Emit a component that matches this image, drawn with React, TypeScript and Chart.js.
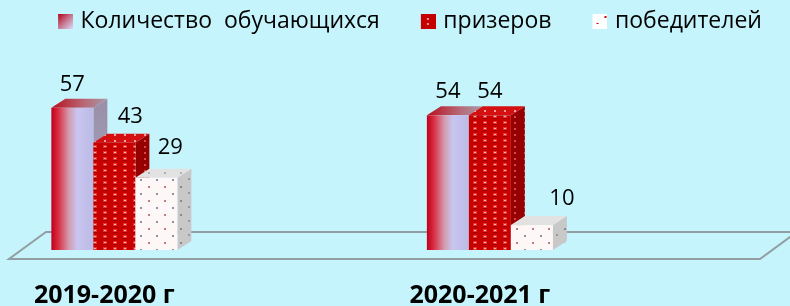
import React, { useEffect, useRef } from 'react';
import { Chart, registerables } from 'chart.js';

Chart.register(...registerables);

// ---- data ----
const categories = ['2019-2020 г', '2020-2021 г'];
const seriesNames = ['Количество  обучающихся', 'призеров', 'победителей'];
const participants = [57, 54];
const prizeWinners = [43, 54];
const winners = [29, 10];

// ---- styles ----
const BG = 'rgb(197,244,252)';
const DEPTH_X = 14;
const DEPTH_Y = -9;
// label nudges [dx, dy] per dataset, per category (style only)
const LABEL_NUDGE = [
  [[0, -17], [0, -17]],
  [[16, -20], [0, -17]],
  [[14, -24], [30, -20]],
];

function tile(w: number, h: number, base: string, dots: Array<[number, number, number, number, string]>) {
  const c = document.createElement('canvas');
  c.width = w;
  c.height = h;
  const g = c.getContext('2d')!;
  g.fillStyle = base;
  g.fillRect(0, 0, w, h);
  dots.forEach(([x, y, dw, dh, col]) => {
    g.fillStyle = col;
    g.fillRect(x, y, dw, dh);
  });
  return c;
}

// legend icon: 50x15 canvas, visible 15x15 square at its right end
function legendIcon(kind: number) {
  const c = document.createElement('canvas');
  c.width = 50;
  c.height = 15;
  const g = c.getContext('2d')!;
  g.translate(35, 0);
  if (kind === 0) {
    const gr = g.createLinearGradient(0, 0, 15, 15);
    gr.addColorStop(0, '#b0001a');
    gr.addColorStop(0.5, '#c87890');
    gr.addColorStop(1, '#dcdcfa');
    g.fillStyle = gr;
    g.fillRect(0, 0, 15, 15);
  } else if (kind === 1) {
    g.fillStyle = '#c40000';
    g.fillRect(0, 0, 15, 15);
    g.fillStyle = '#ff9a9a';
    g.fillRect(6, 4, 2, 2);
    g.fillRect(6, 9, 2, 2);
  } else {
    g.fillStyle = '#ffffff';
    g.fillRect(0, 0, 15, 15);
    g.fillStyle = '#d00000';
    g.fillRect(4, 9, 2, 1);
    g.fillRect(12, 2, 2, 2);
  }
  return c;
}

export default function App() {
  const ref = useRef<HTMLCanvasElement | null>(null);

  useEffect(() => {
    const canvas = ref.current!;
    const ctx0 = canvas.getContext('2d')!;
    Chart.defaults.font.family = "'Open Sans', sans-serif";
    Chart.defaults.color = '#000';

    const redTile = tile(10, 6, '#c80000', [[3, 1, 4, 3, '#e83030'], [4, 2, 2, 1, '#ffb4b4'], [3, 4, 4, 1, '#a00000']]);
    const redTopTile = tile(10, 6, '#d41010', [[4, 2, 2, 2, '#ff9c9c']]);
    const redSideTile = tile(10, 6, '#960000', [[4, 2, 2, 2, '#d84848']]);
    const whiteTile = tile(16, 14, '#fdf7f7', [[4, 4, 2, 2, '#c07a7a'], [12, 11, 2, 2, '#8e94a8']]);
    const whiteTopTile = tile(16, 14, '#e2e2e2', [[4, 4, 2, 2, '#b0b0b0']]);
    const whiteSideTile = tile(16, 14, '#c8c8c8', [[4, 4, 2, 2, '#8a8a8a'], [12, 10, 2, 2, '#9a9a9a']]);
    const pat = (c: HTMLCanvasElement) => ctx0.createPattern(c, 'repeat')!;
    const P = {
      red: pat(redTile), redTop: pat(redTopTile), redSide: pat(redSideTile),
      white: pat(whiteTile), whiteTop: pat(whiteTopTile), whiteSide: pat(whiteSideTile),
    };
    const icons = [legendIcon(0), legendIcon(1), legendIcon(2)];

    const bars3d = {
      id: 'bars3d',
      beforeDatasetsDraw(chart: any) {
        const ctx = chart.ctx as CanvasRenderingContext2D;
        const area = chart.chartArea;
        const base = chart.scales.y.getPixelForValue(0);
        // floor
        const fy = base + 9;
        const by = base - 18;
        const fl = area.left + 9;
        const fr = area.right - 30;
        ctx.save();
        ctx.strokeStyle = 'rgb(146,158,162)';
        ctx.lineWidth = 2;
        ctx.beginPath();
        ctx.moveTo(fr + 37, by);
        ctx.lineTo(fl + 37, by);
        ctx.lineTo(fl, fy);
        ctx.lineTo(fr, fy);
        ctx.lineTo(fr + 37, by);
        ctx.stroke();
        ctx.restore();

        for (let j = 0; j < categories.length; j++) {
          for (let i = 0; i < chart.data.datasets.length; i++) {
            const el = chart.getDatasetMeta(i).data[j];
            if (!el) continue;
            const { x, y, base: b, width } = el.getProps(['x', 'y', 'base', 'width'], true);
            const l = x - width / 2;
            const r = x + width / 2;
            ctx.save();
            // side face
            ctx.beginPath();
            ctx.moveTo(r, y);
            ctx.lineTo(r + DEPTH_X, y + DEPTH_Y);
            ctx.lineTo(r + DEPTH_X, b + DEPTH_Y);
            ctx.lineTo(r, b);
            ctx.closePath();
            if (i === 0) {
              const g = ctx.createLinearGradient(0, y, 0, b);
              g.addColorStop(0, '#9a90aa');
              g.addColorStop(1, '#b2aec8');
              ctx.fillStyle = g;
            } else ctx.fillStyle = i === 1 ? P.redSide : P.whiteSide;
            ctx.fill();
            // top face
            ctx.beginPath();
            ctx.moveTo(l, y);
            ctx.lineTo(l + DEPTH_X, y + DEPTH_Y);
            ctx.lineTo(r + DEPTH_X, y + DEPTH_Y);
            ctx.lineTo(r, y);
            ctx.closePath();
            if (i === 0) {
              const g = ctx.createLinearGradient(l, 0, r + DEPTH_X, 0);
              g.addColorStop(0, '#b8101e');
              g.addColorStop(0.6, '#b86a78');
              g.addColorStop(1, '#a898a8');
              ctx.fillStyle = g;
            } else ctx.fillStyle = i === 1 ? P.redTop : P.whiteTop;
            ctx.fill();
            // front face
            if (i === 0) {
              const g = ctx.createLinearGradient(l, 0, r, 0);
              g.addColorStop(0, '#c0001c');
              g.addColorStop(0.15, '#d8283c');
              g.addColorStop(0.42, '#d49cb0');
              g.addColorStop(0.62, '#c8c6f0');
              g.addColorStop(1, '#bcbbe6');
              ctx.fillStyle = g;
            } else ctx.fillStyle = i === 1 ? P.red : P.white;
            ctx.fillRect(l, y, width, b - y);
            ctx.restore();
          }
        }
        return false;
      },
      afterDraw(chart: any) {
        const ctx = chart.ctx as CanvasRenderingContext2D;
        ctx.save();
        ctx.font = "22px 'Open Sans', sans-serif";
        ctx.fillStyle = '#000';
        ctx.textAlign = 'center';
        ctx.textBaseline = 'alphabetic';
        chart.data.datasets.forEach((ds: any, i: number) => {
          chart.getDatasetMeta(i).data.forEach((el: any, j: number) => {
            const { x, y } = el.getProps(['x', 'y'], true);
            const [dx, dy] = LABEL_NUDGE[i][j];
            ctx.fillText(String(ds.data[j].y), x + dx, y + dy);
          });
        });
        ctx.restore();
      },
    };

    const seriesValues = [participants, prizeWinners, winners];
    const chart = new Chart(canvas, {
      type: 'bar',
      data: {
        datasets: seriesValues.map((vals, i) => ({
          label: seriesNames[i],
          data: categories.map((_, k) => ({ x: k, y: vals[k] })),
          backgroundColor: ['#c0203a', '#c20000', '#ffffff'][i],
        })),
      },
      options: {
        responsive: false,
        animation: false,
        devicePixelRatio: 1,
        layout: { padding: { left: -1, right: 0, top: 0, bottom: -36 } },
        datasets: { bar: { barThickness: 42 } } as any,
        plugins: {
          legend: {
            position: 'top',
            align: 'center',
            labels: {
              usePointStyle: true,
              pointStyleWidth: 42,
              padding: 10,
              color: '#000',
              font: { size: 23 },
              generateLabels: (ch: any) =>
                ch.data.datasets.map((ds: any, i: number) => ({
                  text: ds.label,
                  pointStyle: icons[i],
                  fillStyle: 'transparent',
                  strokeStyle: 'transparent',
                  lineWidth: 0,
                  hidden: false,
                  datasetIndex: i,
                  fontColor: '#000',
                })),
            },
          },
          tooltip: { enabled: false },
        },
        scales: {
          x: {
            type: 'linear',
            offset: false,
            min: -0.30452,
            max: 1.7992,
            grid: { display: false, drawTicks: false, offset: false },
            border: { display: false },
            afterBuildTicks: (s: any) => {
              s.ticks = categories.map((_, i) => ({ value: i }));
            },
            ticks: {
              callback: (v: any) => categories[v] ?? '',
              padding: 31,
              labelOffset: -10,
              autoSkip: false,
              maxRotation: 0,
              color: '#000',
              font: { size: 25, weight: 'bold' },
            },
          },
          y: { display: false, min: 0, max: 83 },
        },
      } as any,
      plugins: [bars3d],
    });
    return () => chart.destroy();
  }, []);

  return (
    <div style={{ position: 'absolute', left: 0, top: 0, width: 790, height: 306, background: BG }}>
      <canvas ref={ref} width={790} height={306} style={{ width: 790, height: 306, display: 'block' }} />
    </div>
  );
}
